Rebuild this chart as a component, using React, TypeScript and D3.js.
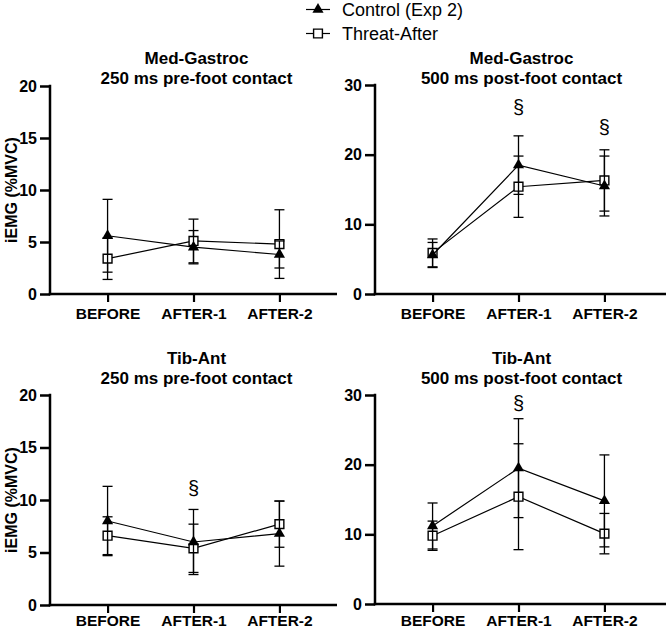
import { useEffect, useRef } from 'react'
import * as d3 from 'd3'

const W = 666
const H = 631
const FONT = '"Liberation Sans", Arial, Helvetica, sans-serif'

const CATEGORIES = ['BEFORE', 'AFTER-1', 'AFTER-2']

// Med-Gastroc, 250 ms pre-foot contact
const MG_PRE_CONTROL = [5.6, 4.5, 3.8]
const MG_PRE_CONTROL_SD = [3.5, 1.6, 1.3]
const MG_PRE_THREAT = [3.4, 5.1, 4.8]
const MG_PRE_THREAT_SD = [2.0, 2.1, 3.3]
const MG_PRE_SIG: (number | null)[] = [null, null, null]

// Med-Gastroc, 500 ms post-foot contact
const MG_POST_CONTROL = [5.6, 18.5, 15.5]
const MG_POST_CONTROL_SD = [1.8, 4.2, 4.3]
const MG_POST_THREAT = [5.9, 15.4, 16.3]
const MG_POST_THREAT_SD = [2.0, 4.4, 4.4]
const MG_POST_SIG: (number | null)[] = [null, 26.8, 23.9]

// Tib-Ant, 250 ms pre-foot contact
const TA_PRE_CONTROL = [8.0, 6.0, 6.8]
const TA_PRE_CONTROL_SD = [3.3, 3.1, 3.1]
const TA_PRE_THREAT = [6.6, 5.4, 7.7]
const TA_PRE_THREAT_SD = [1.8, 2.3, 2.2]
const TA_PRE_SIG: (number | null)[] = [null, 11.1, null]

// Tib-Ant, 500 ms post-foot contact
const TA_POST_CONTROL = [11.2, 19.5, 14.8]
const TA_POST_CONTROL_SD = [3.3, 7.1, 6.6]
const TA_POST_THREAT = [9.8, 15.4, 10.1]
const TA_POST_THREAT_SD = [2.1, 7.6, 2.9]
const TA_POST_SIG: (number | null)[] = [null, 28.8, null]

const Y_TICKS_20 = [0, 5, 10, 15, 20]
const Y_TICKS_30 = [0, 10, 20, 30]

const SERIES_LABELS = ['Control (Exp 2)', 'Threat-After']

type Panel = {
  title: string[]
  control: number[]
  controlSd: number[]
  threat: number[]
  threatSd: number[]
  sig: (number | null)[]
  ticks: number[]
  left: number
  axisEnd: number
  top: number
  bottom: number
  titleY: number
  labelDy: number
  yLabel: boolean
}

const PANELS: Panel[] = [
  {
    title: ['Med-Gastroc', '250 ms pre-foot contact'],
    control: MG_PRE_CONTROL, controlSd: MG_PRE_CONTROL_SD,
    threat: MG_PRE_THREAT, threatSd: MG_PRE_THREAT_SD, sig: MG_PRE_SIG,
    ticks: Y_TICKS_20, left: 50, axisEnd: 337, top: 86, bottom: 294, titleY: 64, labelDy: 25, yLabel: true,
  },
  {
    title: ['Med-Gastroc', '500 ms post-foot contact'],
    control: MG_POST_CONTROL, controlSd: MG_POST_CONTROL_SD,
    threat: MG_POST_THREAT, threatSd: MG_POST_THREAT_SD, sig: MG_POST_SIG,
    ticks: Y_TICKS_30, left: 375, axisEnd: 666, top: 85, bottom: 294, titleY: 64, labelDy: 25, yLabel: false,
  },
  {
    title: ['Tib-Ant', '250 ms pre-foot contact'],
    control: TA_PRE_CONTROL, controlSd: TA_PRE_CONTROL_SD,
    threat: TA_PRE_THREAT, threatSd: TA_PRE_THREAT_SD, sig: TA_PRE_SIG,
    ticks: Y_TICKS_20, left: 50, axisEnd: 337, top: 395, bottom: 605, titleY: 364, labelDy: 21, yLabel: true,
  },
  {
    title: ['Tib-Ant', '500 ms post-foot contact'],
    control: TA_POST_CONTROL, controlSd: TA_POST_CONTROL_SD,
    threat: TA_POST_THREAT, threatSd: TA_POST_THREAT_SD, sig: TA_POST_SIG,
    ticks: Y_TICKS_30, left: 375, axisEnd: 666, top: 395, bottom: 604, titleY: 364, labelDy: 22, yLabel: false,
  },
]

const triangle = d3.symbol().type(d3.symbolTriangle).size(54)
const square = d3.symbol().type(d3.symbolSquare).size(78)

export default function App() {
  const svgRef = useRef<SVGSVGElement>(null)

  useEffect(() => {
    document.body.style.margin = '0'
    const svgEl = svgRef.current
    if (!svgEl) return
    const svg = d3.select(svgEl)
    svg.selectAll('*').remove()
    svg.attr('width', W).attr('height', H)

    svg.append('rect').attr('width', W).attr('height', H).attr('fill', '#fff')

    PANELS.forEach(p => {
      const g = svg.append('g')
      const yMax = p.ticks[p.ticks.length - 1]
      const y = d3.scaleLinear().domain([0, yMax]).range([p.bottom, p.top])
      const x = d3.scalePoint<string>().domain(CATEGORIES).range([p.left, p.left + 287]).padding(0.67)

      // Title
      const tx = (x(CATEGORIES[1]) ?? 0) + 3
      p.title.forEach((line, i) => {
        g.append('text')
          .attr('x', tx).attr('y', p.titleY + i * 20)
          .attr('text-anchor', 'middle')
          .style('font-family', FONT).style('font-weight', 'bold').style('font-size', '17px')
          .text(line)
      })

      // Y axis
      const yAxisG = g.append('g').attr('transform', `translate(${p.left},0)`)
        .call(d3.axisLeft(y).tickValues(p.ticks).tickSize(10).tickSizeOuter(0).tickPadding(3))
      yAxisG.select('.domain').remove()
      yAxisG.selectAll('.tick line').attr('stroke', '#000').attr('stroke-width', 2.5)
      yAxisG.selectAll('.tick text')
        .attr('fill', '#000')
        .style('font-family', FONT).style('font-weight', 'bold').style('font-size', '16px')
      g.append('line')
        .attr('x1', p.left).attr('x2', p.left)
        .attr('y1', p.bottom + 1.25).attr('y2', p.top - 1.25)
        .attr('stroke', '#000').attr('stroke-width', 2.5)

      // X axis
      const xAxisG = g.append('g').attr('transform', `translate(0,${p.bottom})`)
        .call(d3.axisBottom(x).tickSize(8).tickSizeOuter(0).tickPadding(4))
      xAxisG.select('.domain').remove()
      xAxisG.selectAll('.tick line').attr('stroke', '#000').attr('stroke-width', 2.2)
      xAxisG.selectAll('.tick text')
        .attr('fill', '#000')
        .attr('dy', '0')
        .attr('y', p.labelDy)
        .style('font-family', FONT).style('font-weight', 'bold').style('font-size', '15.5px')
      g.append('line')
        .attr('x1', p.left - 1.25).attr('x2', p.axisEnd)
        .attr('y1', p.bottom).attr('y2', p.bottom)
        .attr('stroke', '#000').attr('stroke-width', 2.5)

      if (p.yLabel) {
        g.append('text')
          .attr('transform', `translate(16.5,${(p.top + p.bottom) / 2}) rotate(-90)`)
          .attr('text-anchor', 'middle')
          .style('font-family', FONT).style('font-weight', 'bold').style('font-size', '16px')
          .text('iEMG (%MVC)')
      }

      const line = d3.line<number>()
        .x((_, i) => x(CATEGORIES[i]) ?? 0)
        .y(d => y(d))

      const drawSeries = (means: number[], sds: number[], kind: 'triangle' | 'square') => {
        means.forEach((m, i) => {
          const cx = x(CATEGORIES[i]) ?? 0
          const lo = y(m - sds[i])
          const hi = y(m + sds[i])
          g.append('line').attr('x1', cx).attr('x2', cx).attr('y1', lo).attr('y2', hi)
            .attr('stroke', '#000').attr('stroke-width', 1.3)
          ;[lo, hi].forEach(cy => {
            g.append('line').attr('x1', cx - 5).attr('x2', cx + 5).attr('y1', cy).attr('y2', cy)
              .attr('stroke', '#000').attr('stroke-width', 1.3)
          })
        })
        g.append('path').datum(means).attr('d', line)
          .attr('fill', 'none').attr('stroke', '#000').attr('stroke-width', 1.2)
        means.forEach((m, i) => {
          const cx = x(CATEGORIES[i]) ?? 0
          if (kind === 'triangle') {
            g.append('path').attr('d', triangle()).attr('transform', `translate(${cx},${y(m)})`)
              .attr('fill', '#000')
          } else {
            g.append('path').attr('d', square()).attr('transform', `translate(${cx},${y(m)})`)
              .attr('fill', '#fff').attr('stroke', '#000').attr('stroke-width', 1.4)
          }
        })
      }

      drawSeries(p.threat, p.threatSd, 'square')
      drawSeries(p.control, p.controlSd, 'triangle')

      p.sig.forEach((s, i) => {
        if (s === null) return
        g.append('text')
          .attr('x', x(CATEGORIES[i]) ?? 0).attr('y', y(s))
          .attr('text-anchor', 'middle').attr('dominant-baseline', 'central')
          .style('font-family', FONT).style('font-size', '20px')
          .text('§')
      })
    })

    // Legend
    const legend = svg.append('g')
    SERIES_LABELS.forEach((label, i) => {
      const ly = 9.5 + i * 24
      legend.append('line').attr('x1', 306).attr('x2', 330).attr('y1', ly).attr('y2', ly)
        .attr('stroke', '#000').attr('stroke-width', 1.2)
      legend.append('path')
        .attr('d', i === 0 ? triangle() : square())
        .attr('transform', `translate(318,${ly})`)
        .attr('fill', i === 0 ? '#000' : '#fff')
        .attr('stroke', i === 0 ? 'none' : '#000').attr('stroke-width', 1.4)
      legend.append('text')
        .attr('x', 342).attr('y', ly + 6)
        .style('font-family', FONT).style('font-size', '18px')
        .text(label)
    })
  }, [])

  return <svg ref={svgRef} style={{ display: 'block' }} />
}
